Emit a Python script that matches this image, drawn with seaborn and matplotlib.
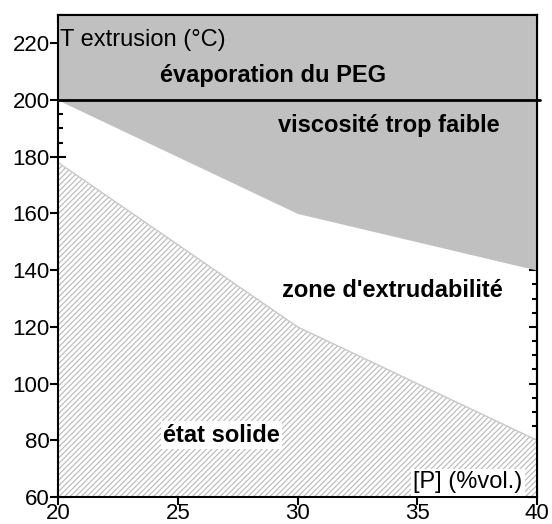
import numpy as np
import pandas as pd
import seaborn as sns
import matplotlib.pyplot as plt
from matplotlib.ticker import MultipleLocator

# data
conc = [20, 30, 40]                 # [P] (%vol.)
t_upper = [200, 160, 140]           # upper limit (viscosité trop faible)
t_lower = [178, 120, 80]            # lower limit (état solide)
t_peg = 200                         # évaporation du PEG

sns.set_theme(style='ticks')
plt.rcParams['font.family'] = ['Liberation Sans', 'DejaVu Sans']
plt.rcParams['text.color'] = 'black'

df = pd.DataFrame({'conc': conc, 'upper': t_upper, 'lower': t_lower})

fig = plt.figure(figsize=(5.52, 5.24), dpi=100)
ax = fig.add_axes([58 / 552, 27 / 524, 479 / 552, 482 / 524])

# grey zone above the upper limit
ax.fill_between(df['conc'], df['upper'], 230, color='#c0c0c0', lw=0, zorder=1)
# hatched solid zone
plt.rcParams['hatch.linewidth'] = 0.8
ax.fill_between(df['conc'], 60, df['lower'], facecolor='white', edgecolor='#b8b8b8',
                hatch='//////', lw=0, zorder=1)
sns.lineplot(data=df, x='conc', y='lower', color='#c8c8c8', lw=1, ax=ax, zorder=2)

# PEG evaporation line
peg = pd.DataFrame({'conc': [20, 40.12], 't': [t_peg, t_peg]})
sns.lineplot(data=peg, x='conc', y='t', color='black', lw=2, ax=ax, zorder=3,
             clip_on=False)

ax.set_xlim(20, 40)
ax.set_ylim(60, 230)
ax.set_xlabel('')
ax.set_ylabel('')
ax.set_xticks([20, 25, 30, 35, 40])
ax.set_yticks([60, 80, 100, 120, 140, 160, 180, 200, 220])
ax.xaxis.set_minor_locator(MultipleLocator(1))
ax.yaxis.set_minor_locator(MultipleLocator(5))
ax.tick_params(which='major', direction='inout', length=11, width=1.5,
               labelsize=16, colors='black')
ax.tick_params(axis='x', which='major', pad=-1.2)
ax.tick_params(axis='y', which='major', pad=0.3)
ax.tick_params(which='minor', direction='in', length=3.6, width=1.5, colors='black')
for s in ax.spines.values():
    s.set_visible(True)
    s.set_linewidth(1.5)
    s.set_color('black')
    s.set_zorder(5)

# inward ticks on top and right
top = ax.secondary_xaxis('top')
top.set_xticks([20, 25, 30, 35, 40])
top.xaxis.set_minor_locator(MultipleLocator(1))
top.tick_params(which='major', direction='in', length=5.8, width=1.5, labeltop=False,
                colors='black')
top.tick_params(which='minor', direction='in', length=3.6, width=1.5, colors='black')
top.spines['top'].set_linewidth(1.5)
top.spines['top'].set_color('black')
right = ax.secondary_yaxis('right')
right.set_yticks([60, 80, 100, 120, 140, 160, 180, 200, 220])
right.yaxis.set_minor_locator(MultipleLocator(5))
right.tick_params(which='major', direction='in', length=5.8, width=1.5,
                  labelright=False, colors='black')
right.tick_params(which='minor', direction='in', length=3.6, width=1.5, colors='black')
right.spines['right'].set_linewidth(1.5)
right.spines['right'].set_color('black')

ax.text(20.08, 219.2, 'T extrusion (°C)', fontsize=17, va='baseline', zorder=6)
ax.text(24.26, 206.5, 'évaporation du PEG', fontsize=17, fontweight='bold',
        va='baseline', zorder=6)
ax.text(29.19, 188.6, 'viscosité trop faible', fontsize=17, fontweight='bold',
        va='baseline', zorder=6)
ax.text(29.35, 130.6, "zone d'extrudabilité", fontsize=17, fontweight='bold',
        va='baseline', zorder=6)
ax.text(24.38, 79.5, 'état solide', fontsize=17, fontweight='bold', va='baseline',
        zorder=6, bbox=dict(boxstyle='square,pad=0.1', fc='white', ec='none'))
ax.text(34.82, 63.0, '[P] (%vol.)', fontsize=17, va='baseline', zorder=6,
        bbox=dict(boxstyle='square,pad=0.1', fc='white', ec='none'))

fig.savefig('out.png', dpi=100)
